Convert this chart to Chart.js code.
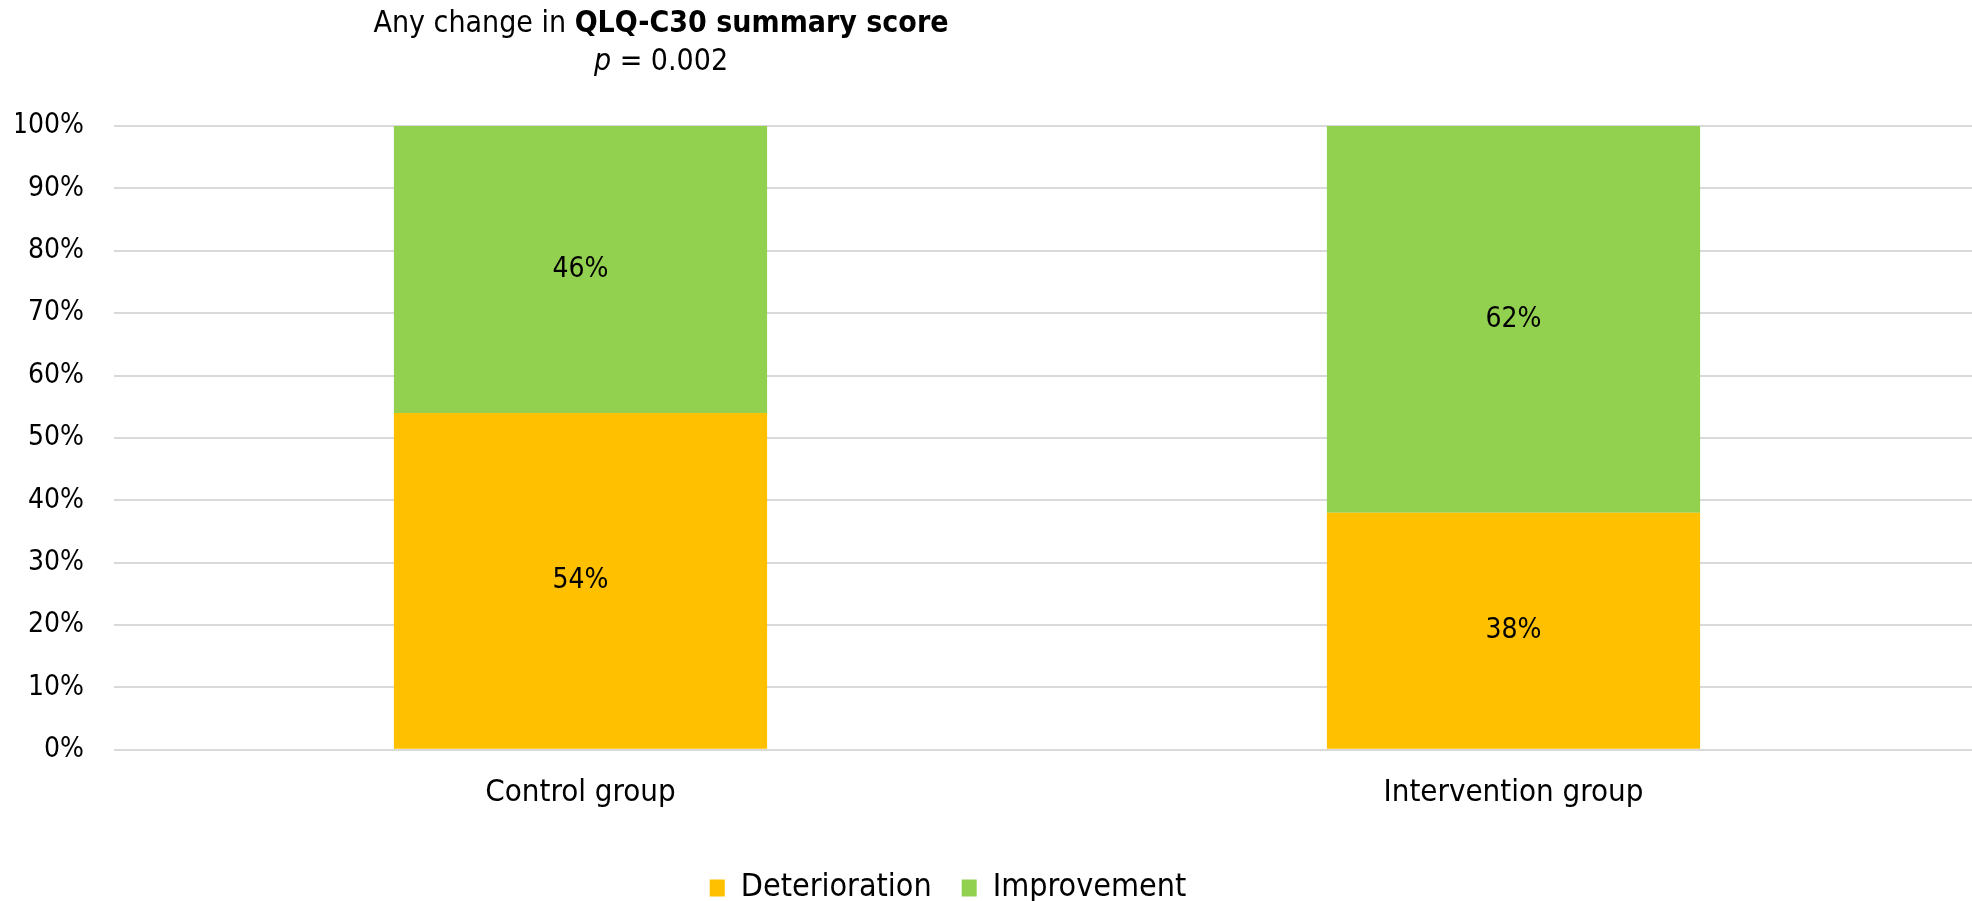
<!DOCTYPE html>
<html>
<head>
<meta charset="utf-8">
<script src="https://cdn.jsdelivr.net/npm/chart.js@4/dist/chart.umd.min.js"></script>
<style>
  html, body { margin: 0; padding: 0; background: #fff; overflow: hidden; }
  /* plot area runs a few pixels past the right edge in the original */
  #wrap { width: 1980px; height: 901px; position: relative; }
</style>
</head>
<body>
<div id="wrap"><canvas id="qlqChart"></canvas></div>
<script>
// chart data
const groups = ['Control group', 'Intervention group'];
const deterioration = [54, 38];
const improvement = [46, 62];
const yTicks = [0, 10, 20, 30, 40, 50, 60, 70, 80, 90, 100];

const FONT = "'Liberation Sans Narrow', 'DejaVu Sans Condensed', sans-serif";

// draws the value in the middle of every bar segment
const segmentLabels = {
    id: 'segmentLabels',
    afterDatasetsDraw(chart) {
        const ctx = chart.ctx;
        ctx.save();
        ctx.font = '28px ' + FONT;
        ctx.fillStyle = '#000';
        ctx.textAlign = 'center';
        ctx.textBaseline = 'middle';
        chart.data.datasets.forEach((ds, i) => {
            chart.getDatasetMeta(i).data.forEach((bar, j) => {
                const yMid = (bar.y + bar.base) / 2;
                ctx.fillText(ds.data[j] + '%', bar.x, yMid);
            });
        });
        ctx.restore();
    }
};

// two-line heading with mixed bold / italic runs
const heading = {
    id: 'heading',
    afterDraw(chart) {
        const ctx = chart.ctx;
        const cx = 661;
        const lines = [
            { y: 32, parts: [['Any change in ', ''], ['QLQ-C30 summary score', 'bold ']] },
            { y: 70, parts: [['p', 'italic '], [' = 0.002', '']] }
        ];
        ctx.save();
        ctx.fillStyle = '#000';
        ctx.textBaseline = 'alphabetic';
        ctx.textAlign = 'left';
        lines.forEach(line => {
            let total = 0;
            line.parts.forEach(p => {
                ctx.font = p[1] + '30px ' + FONT;
                total += ctx.measureText(p[0]).width;
            });
            let x = cx - total / 2;
            line.parts.forEach(p => {
                ctx.font = p[1] + '30px ' + FONT;
                ctx.fillText(p[0], x, line.y);
                x += ctx.measureText(p[0]).width;
            });
        });
        ctx.restore();
    }
};

// legend sits a little left of centre and close to the bottom edge in the original
const legendShift = {
    id: 'legendShift',
    afterLayout(chart) {
        const lg = chart.legend;
        lg.left -= 50;
        lg.right -= 50;
        lg.top += 13;
        lg.bottom += 13;
    }
};

document.addEventListener('DOMContentLoaded', function () {
    const ctx = document.getElementById('qlqChart').getContext('2d');

    new Chart(ctx, {
        type: 'bar',
        data: {
            labels: groups,
            datasets: [
                {
                    label: 'Deterioration',
                    data: deterioration,
                    backgroundColor: '#FFC000',
                    categoryPercentage: 0.8,
                    barPercentage: 0.5
                },
                {
                    label: 'Improvement',
                    data: improvement,
                    backgroundColor: '#92D050',
                    categoryPercentage: 0.8,
                    barPercentage: 0.5
                }
            ]
        },
        options: {
            responsive: true,
            maintainAspectRatio: false,
            animation: false,
            layout: { padding: { top: 126, left: 16, right: 0, bottom: 0 } },
            plugins: {
                legend: {
                    position: 'bottom',
                    labels: {
                        boxWidth: 15,
                        boxHeight: 17,
                        padding: 30,
                        color: '#000',
                        font: { family: FONT, size: 32 }
                    }
                },
                tooltip: { enabled: false }
            },
            scales: {
                x: {
                    stacked: true,
                    border: { display: false },
                    grid: { display: false },
                    ticks: { color: '#000', padding: 17, font: { family: FONT, size: 31 } }
                },
                y: {
                    stacked: true,
                    min: 0,
                    max: 100,
                    border: { display: false },
                    grid: { color: '#d9d9d9', lineWidth: 2, drawTicks: false },
                    afterFit: function (scale) { scale.width = 98; },
                    afterBuildTicks: function (scale) {
                        scale.ticks = yTicks.map(v => ({ value: v }));
                    },
                    ticks: {
                        color: '#000',
                        padding: 30,
                        font: { family: FONT, size: 28 },
                        callback: function (value) { return value + '%'; }
                    }
                }
            }
        },
        plugins: [segmentLabels, heading, legendShift]
    });
});
</script>
</body>
</html>
